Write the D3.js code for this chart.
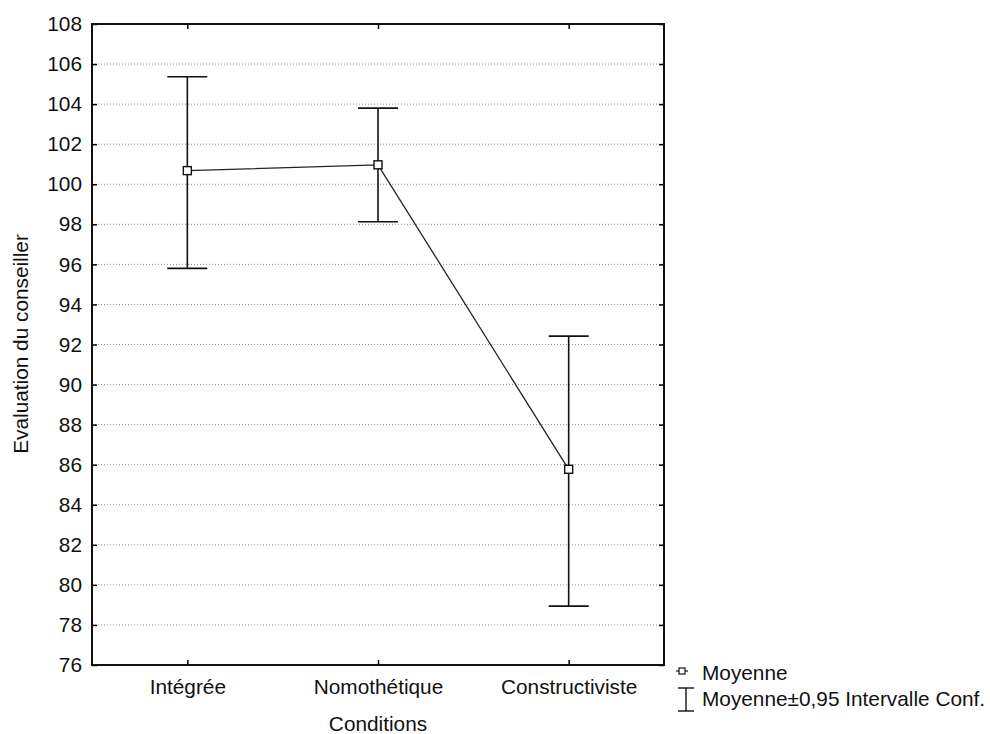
<!DOCTYPE html>
<html><head><meta charset="utf-8">
<script src="https://cdn.jsdelivr.net/npm/d3@7/dist/d3.min.js"></script>
<style>body{margin:0;background:#fff;} text{font-family:"Liberation Sans",Arial,sans-serif;fill:#111;}</style>
</head><body>
<svg id="c" width="990" height="734"></svg>
<script>
const categories = ["Intégrée", "Nomothétique", "Constructiviste"];
const means = [100.68, 100.97, 85.77];
const upper = [105.37, 103.8, 92.42];
const lower = [95.8, 98.13, 78.94];
const yTicks = [76,78,80,82,84,86,88,90,92,94,96,98,100,102,104,106,108];
const xTitle = "Conditions";
const yTitle = "Evaluation du conseiller";
const legendLabels = ["Moyenne", "Moyenne±0,95 Intervalle Conf."];

const svg = d3.select("#c");
const L = 92, R = 664, T = 24, B = 665;
const x = d3.scalePoint().domain(categories).range([L, R]).padding(0.5);
const y = d3.scaleLinear().domain([76, 108]).range([B, T]);
const fs = 20.8;

// gridlines
svg.append("g").selectAll("line").data(yTicks.filter(t => t > 76 && t < 108)).join("line")
  .attr("x1", L).attr("x2", R).attr("y1", d => y(d)).attr("y2", d => y(d))
  .attr("stroke", "#8f8f8f").attr("stroke-width", 1).attr("stroke-dasharray", "1,2");

// left axis
const gl = svg.append("g").attr("transform", `translate(${L},0)`)
  .call(d3.axisLeft(y).tickValues(yTicks).tickSize(-5).tickPadding(10).tickFormat(d3.format("d")));
gl.select(".domain").remove();
gl.selectAll(".tick line").attr("stroke", "#000").attr("stroke-width", 1.5);
gl.selectAll(".tick text").style("font-size", fs + "px").attr("font-family", null);
// right axis ticks
const gr = svg.append("g").attr("transform", `translate(${R},0)`)
  .call(d3.axisRight(y).tickValues(yTicks).tickSize(-5).tickFormat(""));
gr.select(".domain").remove();
gr.selectAll(".tick line").attr("stroke", "#000").attr("stroke-width", 1.5);
// bottom axis
const gb = svg.append("g").attr("transform", `translate(0,${B})`)
  .call(d3.axisBottom(x).tickSize(-5).tickPadding(14));
gb.select(".domain").remove();
gb.selectAll(".tick line").attr("stroke", "#000").attr("stroke-width", 1.5);
gb.selectAll(".tick text").style("font-size", fs + "px").attr("font-family", null);
// top ticks
const gt = svg.append("g").attr("transform", `translate(0,${T})`)
  .call(d3.axisTop(x).tickSize(-5).tickFormat(""));
gt.select(".domain").remove();
gt.selectAll(".tick line").attr("stroke", "#000").attr("stroke-width", 1.5);

// frame
svg.append("rect").attr("x", L).attr("y", T).attr("width", R - L).attr("height", B - T)
  .attr("fill", "none").attr("stroke", "#111").attr("stroke-width", 2);

// error bars
const capW = 20;
const eb = svg.append("g").attr("stroke", "#111").attr("stroke-width", 1.6);
categories.forEach((c, i) => {
  eb.append("line").attr("x1", x(c)).attr("x2", x(c)).attr("y1", y(upper[i])).attr("y2", y(lower[i]));
  eb.append("line").attr("x1", x(c) - capW).attr("x2", x(c) + capW).attr("y1", y(upper[i])).attr("y2", y(upper[i]));
  eb.append("line").attr("x1", x(c) - capW).attr("x2", x(c) + capW).attr("y1", y(lower[i])).attr("y2", y(lower[i]));
});

// mean line
svg.append("path").datum(categories.map((c, i) => [x(c), y(means[i])]))
  .attr("d", d3.line()).attr("fill", "none").attr("stroke", "#222").attr("stroke-width", 1.3);

// markers
svg.append("g").selectAll("rect").data(categories).join("rect")
  .attr("x", d => x(d) - 4).attr("y", (d, i) => y(means[i]) - 4).attr("width", 8).attr("height", 8)
  .attr("fill", "#fff").attr("stroke", "#111").attr("stroke-width", 1.4);

// titles
svg.append("text").attr("x", (L + R) / 2).attr("y", 731).attr("text-anchor", "middle")
  .style("font-size", fs + "px").text(xTitle);
svg.append("text").attr("transform", "translate(28,344) rotate(-90)").attr("text-anchor", "middle")
  .style("font-size", fs + "px").text(yTitle);

// legend
const lg = svg.append("g");
lg.append("line").attr("x1", 676).attr("x2", 688).attr("y1", 671).attr("y2", 671).attr("stroke", "#111").attr("stroke-width", 1.2);
lg.append("rect").attr("x", 679).attr("y", 668).attr("width", 6).attr("height", 6).attr("fill", "#fff").attr("stroke", "#111").attr("stroke-width", 1.2);
lg.append("text").attr("x", 702).attr("y", 680).style("font-size", fs + "px").text(legendLabels[0]);
lg.append("line").attr("x1", 686).attr("x2", 686).attr("y1", 688).attr("y2", 711).attr("stroke", "#111").attr("stroke-width", 1.4);
lg.append("line").attr("x1", 678).attr("x2", 694).attr("y1", 688).attr("y2", 688).attr("stroke", "#111").attr("stroke-width", 1.4);
lg.append("line").attr("x1", 678).attr("x2", 694).attr("y1", 711).attr("y2", 711).attr("stroke", "#111").attr("stroke-width", 1.4);
lg.append("text").attr("x", 702).attr("y", 706).style("font-size", fs + "px").text(legendLabels[1]);
</script>
</body></html>
